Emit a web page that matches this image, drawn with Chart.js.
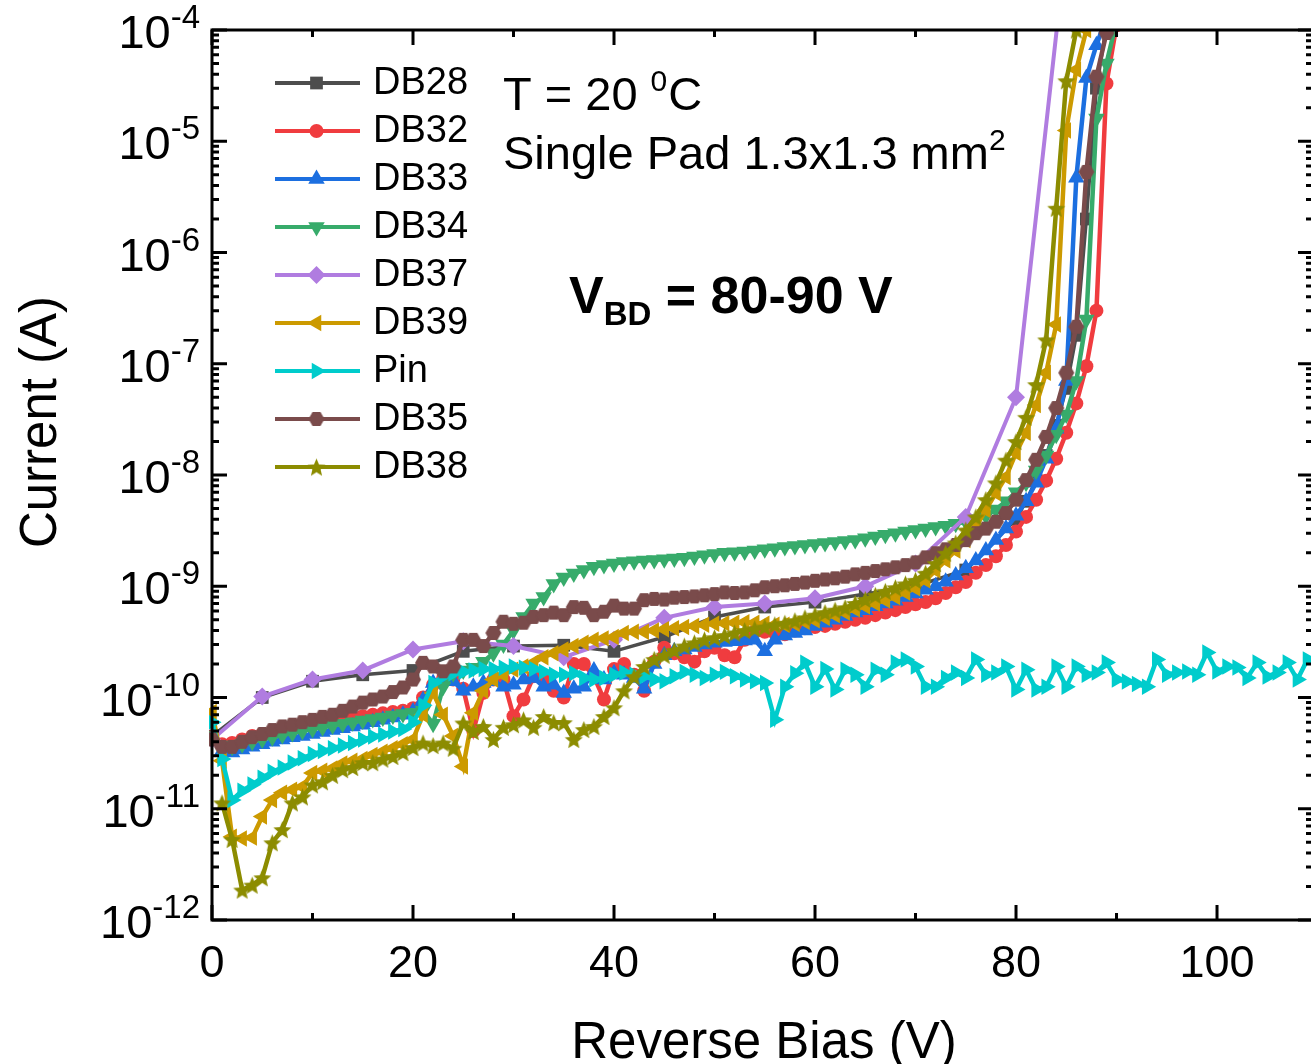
<!DOCTYPE html>
<html>
<head>
<meta charset="utf-8">
<script src="https://cdn.jsdelivr.net/npm/chart.js@4.4.1/dist/chart.umd.min.js"></script>
<style>
  html, body { margin: 0; padding: 0; background: #fff; overflow: hidden; }
  #wrap { width: 1316px; height: 1064px; }
</style>
</head>
<body>
<div id="wrap"><canvas id="iv-chart" width="1316" height="1064"></canvas></div>
<script>
// Reverse-bias I-V curves, single pad 1.3x1.3 mm2, T = 20 C

// voltage grids (V)
const vDense = [0,1,2,3,4,5,6,7,8,9,10,11,12,13,14,15,16,17,18,19,20,21,22,23,24,25,26,27,28,29,30,31,32,33,34,35,36,37,38,39,40,41,42,43,44,45,46,47,48,49,50,51,52,53,54,55,56,57,58,59,60,61,62,63,64,65,66,67,68,69,70,71,72,73,74,75,76,77,78,79,80,81,82,83,84,85,86,87,88,89,90,91,92,93,94,95,96,97,98,99,100,101,102,103,104,105,106,107,108,109];
const vDB28 = [0,5,10,15,20,25,30,35,40,45,50,55,60,65,70,75,80,81,82,83,84,85,86,87,88,89];
const vDB37 = [0,5,10,15,20,25,30,35,40,45,50,55,60,65,70,75,80,85];

// currents (A)
const iDB28 = [4.5e-11,1.0e-10,1.4e-10,1.6e-10,1.75e-10,2.6e-10,2.9e-10,2.95e-10,2.6e-10,3.5e-10,5.3e-10,6.5e-10,7.2e-10,8.5e-10,1.0e-9,1.4e-9,4.0e-9,5.8e-9,9.0e-9,1.5e-8,2.8e-8,6.0e-8,1.8e-7,2.0e-6,3.0e-5,1.1e-4];

const iDB32 = [4.4e-11,3.8e-11,3.9e-11,4.2e-11,4.5e-11,4.7e-11,4.9e-11,5.2e-11,5.4e-11,5.6e-11,
  5.8e-11,6.0e-11,6.2e-11,6.4e-11,6.6e-11,6.8e-11,7.0e-11,7.2e-11,7.4e-11,7.6e-11,
  8.0e-11,1.0e-10,1.3e-10,1.5e-10,1.45e-10,1.2e-10,5.0e-11,1.1e-10,1.45e-10,1.45e-10,
  6.8e-11,9.6e-11,1.55e-10,1.45e-10,1.15e-10,1.0e-10,2.0e-10,2.0e-10,1.55e-10,9.6e-11,
  1.8e-10,2.0e-10,1.6e-10,1.15e-10,2.1e-10,2.8e-10,2.5e-10,2.3e-10,2.1e-10,2.6e-10,
  2.8e-10,2.4e-10,2.3e-10,3.3e-10,3.9e-10,3.9e-10,3.8e-10,3.7e-10,4.0e-10,4.2e-10,
  4.3e-10,4.4e-10,4.6e-10,4.8e-10,5.0e-10,5.2e-10,5.5e-10,5.8e-10,6.1e-10,6.5e-10,
  6.9e-10,7.2e-10,7.8e-10,8.7e-10,9.8e-10,1.09e-9,1.32e-9,1.55e-9,1.86e-9,2.35e-9,
  3.1e-9,4.2e-9,6.0e-9,8.9e-9,1.4e-8,2.4e-8,4.4e-8,9.5e-8,3.0e-7,3.3e-5,
  1.1e-4];

const iDB33 = [4.2e-11,3.3e-11,3.2e-11,3.4e-11,3.6e-11,3.8e-11,4.0e-11,4.2e-11,4.4e-11,4.5e-11,
  4.7e-11,4.9e-11,5.1e-11,5.3e-11,5.5e-11,5.7e-11,6.0e-11,6.3e-11,6.6e-11,7.0e-11,
  7.5e-11,9.5e-11,1.35e-10,1.5e-10,1.4e-10,1.15e-10,1.25e-10,1.35e-10,1.4e-10,1.25e-10,
  1.3e-10,1.45e-10,1.5e-10,1.25e-10,1.3e-10,1.1e-10,1.2e-10,1.25e-10,1.75e-10,1.45e-10,
  1.65e-10,1.6e-10,1.5e-10,1.2e-10,2.0e-10,2.4e-10,2.6e-10,2.7e-10,2.85e-10,3.0e-10,
  3.1e-10,3.15e-10,3.2e-10,3.25e-10,3.3e-10,2.6e-10,3.3e-10,3.6e-10,3.8e-10,4.0e-10,
  4.4e-10,4.7e-10,5.0e-10,5.4e-10,5.8e-10,6.1e-10,6.6e-10,7.0e-10,7.4e-10,8.0e-10,
  8.6e-10,9.3e-10,1.0e-9,1.1e-9,1.25e-9,1.45e-9,1.7e-9,2.1e-9,2.6e-9,3.3e-9,
  4.3e-9,5.8e-9,8.5e-9,1.4e-8,2.6e-8,7.0e-8,4.7e-6,3.7e-5,7.3e-5,1.3e-4];

const iDB34 = [4.5e-11,3.7e-11,3.6e-11,3.8e-11,4.0e-11,4.2e-11,4.4e-11,4.6e-11,4.8e-11,5.0e-11,
  5.2e-11,5.4e-11,5.6e-11,5.8e-11,6.0e-11,6.2e-11,6.4e-11,6.6e-11,6.9e-11,7.1e-11,
  7.3e-11,7.6e-11,5.8e-11,1.25e-10,1.65e-10,1.75e-10,1.85e-10,2.1e-10,2.5e-10,3.0e-10,
  4.0e-10,5.3e-10,7.0e-10,8.0e-10,1.05e-9,1.2e-9,1.3e-9,1.4e-9,1.5e-9,1.55e-9,
  1.6e-9,1.65e-9,1.68e-9,1.7e-9,1.72e-9,1.75e-9,1.78e-9,1.8e-9,1.85e-9,1.9e-9,
  1.95e-9,2.0e-9,2.02e-9,2.05e-9,2.1e-9,2.15e-9,2.2e-9,2.25e-9,2.3e-9,2.35e-9,
  2.4e-9,2.45e-9,2.5e-9,2.55e-9,2.6e-9,2.7e-9,2.8e-9,2.9e-9,3.0e-9,3.1e-9,
  3.2e-9,3.3e-9,3.4e-9,3.5e-9,3.65e-9,3.8e-9,4.0e-9,4.3e-9,4.9e-9,5.8e-9,
  7.0e-9,8.5e-9,1.1e-8,1.5e-8,2.3e-8,3.5e-8,7.0e-8,2.5e-7,1.6e-5,5.0e-5,
  1.2e-4];

const iDB37 = [4.2e-11,1.02e-10,1.45e-10,1.75e-10,2.7e-10,3.2e-10,2.9e-10,2.3e-10,3.3e-10,5.2e-10,6.5e-10,7.0e-10,7.8e-10,1.0e-9,1.6e-9,4.2e-9,5.0e-8,6.0e-4];

const iDB39 = [7.4e-11,2.7e-11,5.6e-12,5.4e-12,5.5e-12,8.5e-12,1.2e-11,1.39e-11,1.48e-11,1.58e-11,
  2.1e-11,2.2e-11,2.3e-11,2.55e-11,2.7e-11,2.8e-11,3.05e-11,3.25e-11,3.5e-11,3.8e-11,
  4.2e-11,7.0e-11,1.1e-10,7.0e-11,4.5e-11,2.4e-11,7.3e-11,1.15e-10,1.45e-10,1.6e-10,
  1.78e-10,1.9e-10,2.05e-10,2.3e-10,2.5e-10,2.7e-10,2.9e-10,3.1e-10,3.3e-10,3.4e-10,
  3.5e-10,3.8e-10,3.9e-10,3.9e-10,4.0e-10,4.1e-10,4.2e-10,4.3e-10,4.4e-10,4.5e-10,
  4.6e-10,4.65e-10,4.7e-10,4.75e-10,4.7e-10,4.6e-10,4.5e-10,4.5e-10,4.6e-10,4.8e-10,
  4.95e-10,5.2e-10,5.5e-10,5.8e-10,6.2e-10,6.6e-10,7.0e-10,7.5e-10,8.0e-10,8.8e-10,
  9.6e-10,1.13e-9,1.39e-9,1.71e-9,2.1e-9,2.6e-9,3.4e-9,4.85e-9,6.9e-9,9.6e-9,
  1.58e-8,2.4e-8,4.25e-8,8.3e-8,2.25e-7,1.25e-5,4.4e-5,1.0e-4];

const iPin = [6.0e-11,2.8e-11,1.2e-11,1.45e-11,1.65e-11,1.9e-11,2.15e-11,2.35e-11,2.6e-11,2.85e-11,
  3.1e-11,3.3e-11,3.5e-11,3.7e-11,3.9e-11,4.2e-11,4.45e-11,4.65e-11,4.95e-11,5.2e-11,
  6.0e-11,8.5e-11,1.35e-10,1.55e-10,1.65e-10,1.7e-10,1.75e-10,1.8e-10,1.8e-10,1.85e-10,
  1.9e-10,1.85e-10,1.8e-10,1.7e-10,1.6e-10,1.6e-10,1.65e-10,1.5e-10,1.45e-10,1.5e-10,
  1.6e-10,1.68e-10,1.6e-10,1.55e-10,1.45e-10,1.4e-10,1.55e-10,1.7e-10,1.6e-10,1.5e-10,
  1.6e-10,1.7e-10,1.55e-10,1.45e-10,1.4e-10,1.35e-10,6.3e-11,1.25e-10,1.65e-10,2.05e-10,
  1.25e-10,1.8e-10,1.18e-10,1.78e-10,1.6e-10,1.25e-10,1.78e-10,1.6e-10,2.06e-10,2.2e-10,
  1.9e-10,1.25e-10,1.25e-10,1.5e-10,1.68e-10,1.5e-10,2.2e-10,1.6e-10,1.68e-10,1.9e-10,
  1.18e-10,1.78e-10,1.18e-10,1.25e-10,1.9e-10,1.25e-10,1.9e-10,1.6e-10,1.68e-10,2.06e-10,
  1.45e-10,1.39e-10,1.32e-10,1.25e-10,2.2e-10,1.6e-10,1.68e-10,1.71e-10,1.6e-10,2.54e-10,
  1.71e-10,1.9e-10,1.86e-10,1.5e-10,2.06e-10,1.54e-10,1.68e-10,2.06e-10,1.45e-10,2.2e-10];

const iDB35 = [4.2e-11,3.6e-11,3.6e-11,4.0e-11,4.4e-11,4.7e-11,5.1e-11,5.5e-11,5.7e-11,6.0e-11,
  6.3e-11,6.7e-11,7.0e-11,7.6e-11,8.3e-11,9.0e-11,9.6e-11,1.02e-10,1.12e-10,1.23e-10,
  1.45e-10,2.05e-10,1.9e-10,1.72e-10,1.9e-10,3.3e-10,3.3e-10,2.9e-10,3.8e-10,4.8e-10,
  4.6e-10,4.7e-10,5.3e-10,5.5e-10,5.8e-10,5.5e-10,6.5e-10,6.4e-10,5.5e-10,5.9e-10,
  6.7e-10,6.3e-10,6.3e-10,7.5e-10,7.7e-10,7.6e-10,7.9e-10,8.0e-10,8.1e-10,8.3e-10,
  8.5e-10,8.8e-10,8.7e-10,8.8e-10,9.2e-10,9.8e-10,1.0e-9,1.02e-9,1.05e-9,1.08e-9,
  1.12e-9,1.15e-9,1.18e-9,1.22e-9,1.28e-9,1.32e-9,1.37e-9,1.42e-9,1.48e-9,1.55e-9,
  1.64e-9,1.82e-9,1.98e-9,2.15e-9,2.35e-9,2.6e-9,3.0e-9,3.3e-9,3.8e-9,4.55e-9,
  6.0e-9,9.0e-9,1.37e-8,2.2e-8,4.0e-8,8.3e-8,2.15e-7,5.3e-6,3.8e-5,9.4e-5];

const iDB38 = [null,1.13e-11,5.3e-12,1.86e-12,2.06e-12,2.4e-12,4.95e-12,6.5e-12,1.13e-11,1.28e-11,
  1.64e-11,1.75e-11,2.0e-11,2.25e-11,2.35e-11,2.6e-11,2.6e-11,2.8e-11,2.95e-11,3.2e-11,
  3.55e-11,3.9e-11,3.7e-11,3.9e-11,3.5e-11,5.9e-11,4.95e-11,5.5e-11,4.2e-11,5.4e-11,
  5.7e-11,6.3e-11,5.4e-11,6.75e-11,5.95e-11,5.95e-11,4.2e-11,5.15e-11,5.5e-11,6.75e-11,
  8.1e-11,1.15e-10,1.54e-10,1.9e-10,2.2e-10,2.4e-10,2.65e-10,2.9e-10,3.1e-10,3.3e-10,
  3.45e-10,3.6e-10,3.8e-10,4.0e-10,4.15e-10,4.3e-10,4.5e-10,4.65e-10,4.9e-10,5.2e-10,
  5.5e-10,5.8e-10,6.1e-10,6.4e-10,7.0e-10,7.6e-10,8.3e-10,9.0e-10,9.7e-10,1.05e-9,
  1.13e-9,1.31e-9,1.6e-9,1.98e-9,2.45e-9,3.2e-9,4.2e-9,6.0e-9,8.5e-9,1.36e-8,
  2.0e-8,3.3e-8,6.5e-8,1.64e-7,2.5e-6,3.5e-5,1.0e-4];

// axis ticks
const xTicks = [0, 20, 40, 60, 80, 100];
const xMinorTicks = [10, 30, 50, 70, 90];
const yExponents = [-12, -11, -10, -9, -8, -7, -6, -5, -4];

const FONT = "'Liberation Sans', Arial, sans-serif";

function pairs(xs, ys) {
    return ys.map((y, i) => ({ x: xs[i], y: y }));
}

function makeHexagon(color, r) {
    const c = document.createElement('canvas');
    const s = Math.ceil(r * 2 + 2);
    c.width = s; c.height = s;
    const g = c.getContext('2d');
    g.fillStyle = color;
    g.beginPath();
    for (let k = 0; k < 6; k++) {
        const a = Math.PI / 3 * k;
        g.lineTo(s / 2 + r * Math.cos(a), s / 2 + r * Math.sin(a));
    }
    g.closePath();
    g.fill();
    return c;
}

function makeStar(color, r) {
    const c = document.createElement('canvas');
    const s = Math.ceil(r * 2 + 2);
    c.width = s; c.height = s;
    const g = c.getContext('2d');
    g.fillStyle = color;
    g.beginPath();
    for (let k = 0; k < 10; k++) {
        const a = -Math.PI / 2 + Math.PI / 5 * k;
        const rr = k % 2 === 0 ? r : r * 0.45;
        g.lineTo(s / 2 + rr * Math.cos(a), s / 2 + rr * Math.sin(a) + 1);
    }
    g.closePath();
    g.fill();
    return c;
}

const series = [
    { label: 'DB28', v: vDB28, i: iDB28, color: '#4d4d4d', style: 'rect', rot: 0, r: 9, w: 3.5 },
    { label: 'DB32', v: vDense, i: iDB32, color: '#f03c3f', style: 'circle', rot: 0, r: 7, w: 4.5 },
    { label: 'DB33', v: vDense, i: iDB33, color: '#1c6fe0', style: 'triangle', rot: 0, r: 9.5, w: 4.5 },
    { label: 'DB34', v: vDense, i: iDB34, color: '#37ab6b', style: 'triangle', rot: 180, r: 9.5, w: 4.5 },
    { label: 'DB37', v: vDB37, i: iDB37, color: '#b07ce0', style: 'rectRot', rot: 0, r: 9, w: 4 },
    { label: 'DB39', v: vDense, i: iDB39, color: '#cc9a00', style: 'triangle', rot: -90, r: 9.5, w: 4.5 },
    { label: 'Pin', v: vDense, i: iPin, color: '#00cccc', style: 'triangle', rot: 90, r: 9.5, w: 4.5 },
    { label: 'DB35', v: vDense, i: iDB35, color: '#7a4b4b', style: makeHexagon('#7a4b4b', 8), rot: 0, r: 8, w: 4.5 },
    { label: 'DB38', v: vDense, i: iDB38, color: '#8c8c00', style: makeStar('#8c8c00', 9.5), rot: 0, r: 9.5, w: 4.5 },
];

const datasets = series.map((s, k) => ({
    label: s.label,
    data: pairs(s.v, s.i),
    borderColor: s.color,
    backgroundColor: s.color,
    borderWidth: s.w,
    pointStyle: s.style,
    rotation: s.rot,
    pointRadius: s.r,
    pointBorderWidth: 0,
    pointBackgroundColor: s.color,
    tension: 0,
    spanGaps: true,
    order: series.length - k,
    clip: { left: 3, top: 0, right: 0, bottom: 0 },
}));

function drawSup(ctx, base, sup, x, y, size, supSize, rise, align, weight) {
    const wt = weight ? weight + ' ' : '';
    ctx.font = wt + size + 'px ' + FONT;
    const wb = ctx.measureText(base).width;
    ctx.font = wt + supSize + 'px ' + FONT;
    const ws = ctx.measureText(sup).width;
    let x0 = x;
    if (align === 'right') x0 = x - wb - ws;
    ctx.textAlign = 'left';
    ctx.textBaseline = 'alphabetic';
    ctx.font = wt + size + 'px ' + FONT;
    ctx.fillText(base, x0, y);
    ctx.font = wt + supSize + 'px ' + FONT;
    ctx.fillText(sup, x0 + wb, y - rise);
    return x0 + wb + ws;
}

const framePlugin = {
    id: 'frame',
    afterDatasetsDraw(chart) {
        const { ctx, chartArea: a } = chart;
        const xs = chart.scales.x, ys = chart.scales.y;
        ctx.save();
        ctx.strokeStyle = '#000';
        ctx.lineWidth = 3;
        ctx.strokeRect(a.left, a.top, a.right - a.left, a.bottom - a.top);

        const major = 15, minor = 7;
        ctx.beginPath();
        xTicks.forEach(v => {
            const px = xs.getPixelForValue(v);
            ctx.moveTo(px, a.bottom); ctx.lineTo(px, a.bottom - major);
            ctx.moveTo(px, a.top); ctx.lineTo(px, a.top + major);
        });
        xMinorTicks.forEach(v => {
            const px = xs.getPixelForValue(v);
            ctx.moveTo(px, a.bottom); ctx.lineTo(px, a.bottom - minor);
            ctx.moveTo(px, a.top); ctx.lineTo(px, a.top + minor);
        });
        yExponents.forEach((e, n) => {
            const py = ys.getPixelForValue(Math.pow(10, e));
            ctx.moveTo(a.left, py); ctx.lineTo(a.left + major, py);
            ctx.moveTo(a.right, py); ctx.lineTo(a.right - major, py);
            if (n < yExponents.length - 1) {
                for (let m = 2; m <= 9; m++) {
                    const pm = ys.getPixelForValue(m * Math.pow(10, e));
                    ctx.moveTo(a.left, pm); ctx.lineTo(a.left + minor, pm);
                    ctx.moveTo(a.right, pm); ctx.lineTo(a.right - minor, pm);
                }
            }
        });
        ctx.stroke();

        // tick labels
        ctx.fillStyle = '#000';
        ctx.font = '45px ' + FONT;
        ctx.textAlign = 'center';
        ctx.textBaseline = 'alphabetic';
        xTicks.forEach(v => {
            ctx.fillText(String(v), xs.getPixelForValue(v), 977);
        });
        yExponents.forEach(e => {
            const py = ys.getPixelForValue(Math.pow(10, e));
            drawSup(ctx, '10', String(e), 200, py + 18, 47, 33, 20, 'right');
        });

        // axis titles
        ctx.font = '51px ' + FONT;
        ctx.textAlign = 'center';
        ctx.fillText('Reverse Bias (V)', 764, 1058);
        ctx.save();
        ctx.translate(56, 422);
        ctx.rotate(-Math.PI / 2);
        ctx.fillText('Current (A)', 0, 0);
        ctx.restore();

        // legend
        const lx0 = 275, lx1 = 360, ly0 = 83, step = 48;
        chart.data.datasets.forEach((d, k) => {
            const y = ly0 + k * step;
            ctx.strokeStyle = d.borderColor;
            ctx.lineWidth = 4;
            ctx.beginPath();
            ctx.moveTo(lx0, y); ctx.lineTo(lx1, y);
            ctx.stroke();
            ctx.fillStyle = d.borderColor;
            Chart.helpers.drawPoint(ctx, {
                pointStyle: d.pointStyle, rotation: d.rotation,
                radius: d.pointRadius, borderWidth: 0,
            }, (lx0 + lx1) / 2 - 1, y);
            ctx.fillStyle = '#000';
            ctx.font = '38px ' + FONT;
            ctx.textAlign = 'left';
            ctx.textBaseline = 'middle';
            ctx.fillText(d.label, 373, y + 1);
        });

        // annotations
        ctx.fillStyle = '#000';
        ctx.textBaseline = 'alphabetic';
        const xe = drawSup(ctx, 'T = 20 ', '0', 503, 110, 47, 30, 19, 'left');
        ctx.font = '47px ' + FONT;
        ctx.fillText('C', xe + 1, 110);
        drawSup(ctx, 'Single Pad 1.3x1.3 mm', '2', 503, 169, 47, 30, 19, 'left');

        ctx.font = 'bold 52px ' + FONT;
        ctx.fillText('V', 569, 313);
        let w = ctx.measureText('V').width;
        ctx.font = 'bold 33px ' + FONT;
        ctx.fillText('BD', 569 + w, 325);
        w += ctx.measureText('BD').width;
        ctx.font = 'bold 52px ' + FONT;
        ctx.fillText(' = 80-90 V', 569 + w, 313);
        ctx.restore();
    },
};

new Chart(document.getElementById('iv-chart'), {
    type: 'line',
    data: { datasets },
    options: {
        responsive: false,
        animation: false,
        layout: { autoPadding: false, padding: { left: 212, right: 3, top: 30, bottom: 144 } },
        plugins: { legend: { display: false }, tooltip: { enabled: false } },
        scales: {
            x: { type: 'linear', min: 0, max: 109.55, display: false },
            y: { type: 'logarithmic', min: 1e-12, max: 1e-4, display: false },
        },
    },
    plugins: [framePlugin],
});
</script>
</body>
</html>
